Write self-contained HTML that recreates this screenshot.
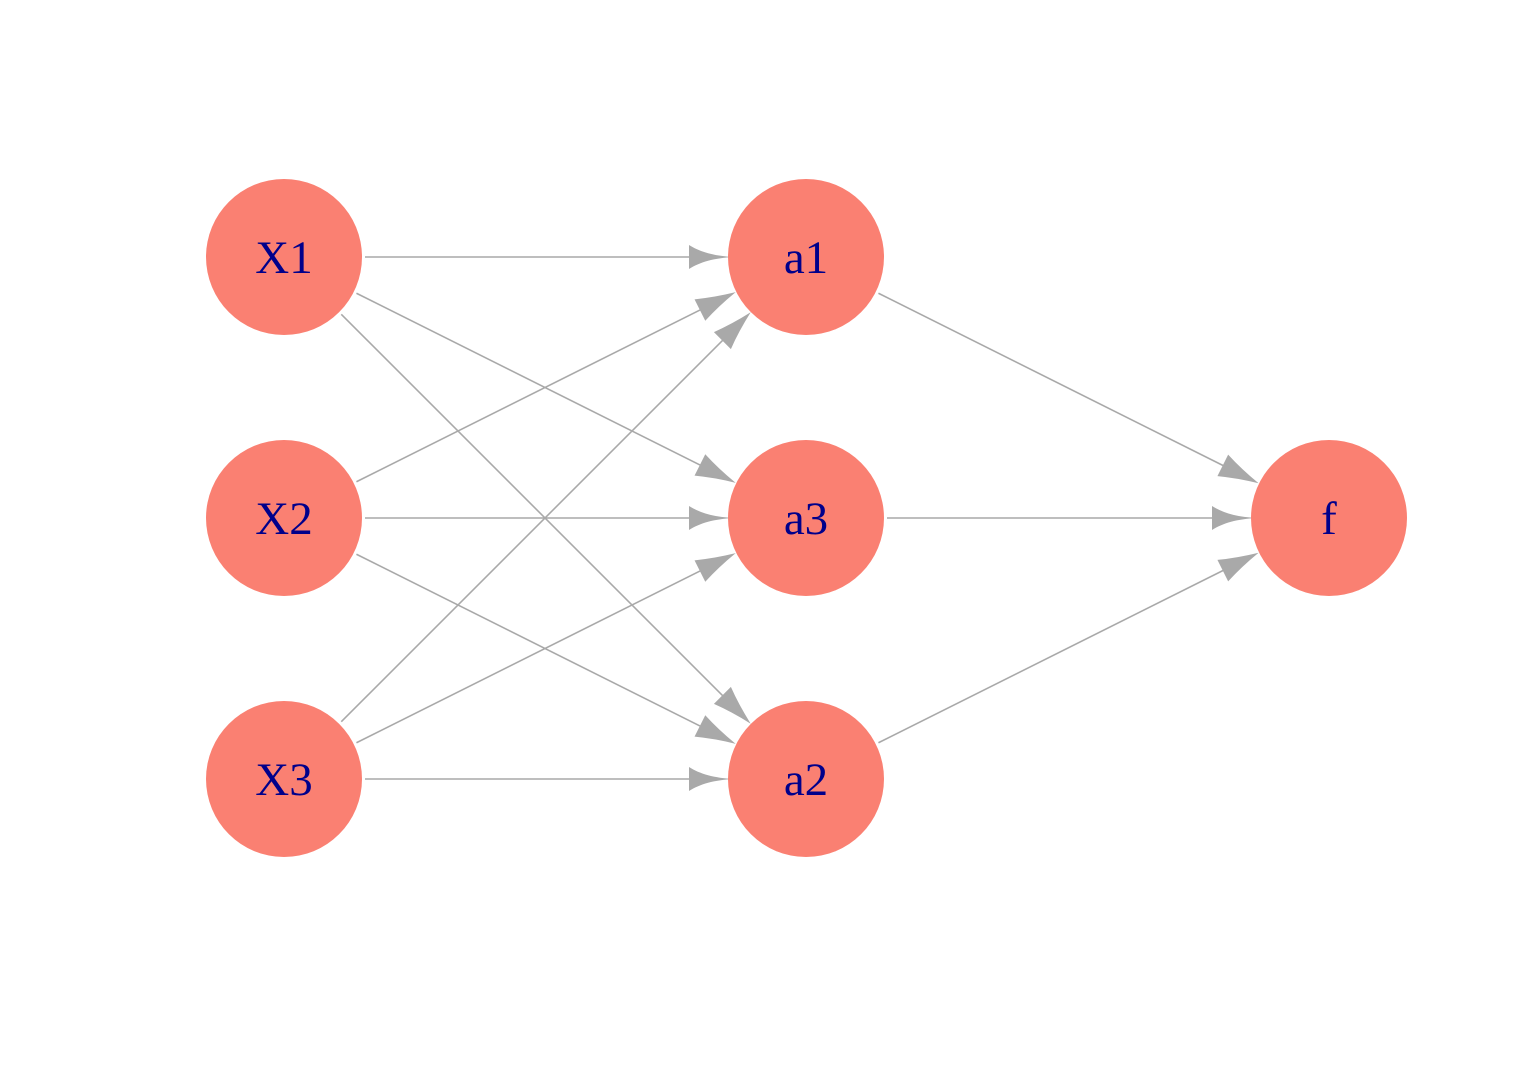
<!DOCTYPE html>
<html><head><meta charset="utf-8"><style>html,body{margin:0;padding:0;background:#fff}svg{display:block}</style></head>
<body>
<svg width="1536" height="1075" viewBox="0 0 1536 1075" xmlns="http://www.w3.org/2000/svg">
<defs>
<path id="ah" d="M0,0 C-20,-1 -34,-5 -45,-12 L-45,12 C-34,5 -20,1 0,0 Z" fill="#A9A9A9"/>
<path id="at" d="M0,0 Q-22,-5 -40,-12 L-40,12 Q-22,5 0,0 Z" fill="#A9A9A9"/>
<g id="e0"><line x1="81" y1="0" x2="410" y2="0" stroke="#A9A9A9" stroke-width="1.6"/><use href="#ah" transform="translate(450,0)"/></g>
<g id="e1"><line x1="81" y1="0" x2="470" y2="0" stroke="#A9A9A9" stroke-width="1.6"/><use href="#at" transform="translate(505,0)"/></g>
<g id="e2"><line x1="81" y1="0" x2="625" y2="0" stroke="#A9A9A9" stroke-width="1.6"/><use href="#at" transform="translate(660,0)"/></g>
<g id="e3"><line x1="81" y1="0" x2="471" y2="0" stroke="#A9A9A9" stroke-width="1.6"/><use href="#at" transform="translate(506,0)"/></g>
<g id="e4"><line x1="81" y1="0" x2="411" y2="0" stroke="#A9A9A9" stroke-width="1.6"/><use href="#ah" transform="translate(451,0)"/></g>
</defs>
<use href="#e0" transform="translate(284,257)"/>
<use href="#e1" transform="translate(284,257) rotate(26.565)"/>
<use href="#e2" transform="translate(284,257) rotate(45)"/>
<use href="#e1" transform="translate(284,518) rotate(-26.565)"/>
<use href="#e0" transform="translate(284,518)"/>
<use href="#e1" transform="translate(284,518) rotate(26.565)"/>
<use href="#e2" transform="translate(284,779) rotate(-45)"/>
<use href="#e1" transform="translate(284,779) rotate(-26.565)"/>
<use href="#e0" transform="translate(284,779)"/>
<use href="#e3" transform="translate(806,257) rotate(26.565)"/>
<use href="#e4" transform="translate(806,518)"/>
<use href="#e3" transform="translate(806,779) rotate(-26.565)"/>
<g fill="#FA8072">
<circle cx="284" cy="257" r="78"/><circle cx="284" cy="518" r="78"/><circle cx="284" cy="779" r="78"/>
<circle cx="806" cy="257" r="78"/><circle cx="806" cy="518" r="78"/><circle cx="806" cy="779" r="78"/>
<circle cx="1329" cy="518" r="78"/>
</g>
<g font-family="Liberation Serif, serif" font-size="47" fill="#00008B" text-anchor="middle">
<text x="284" y="273">X1</text><text x="284" y="534">X2</text><text x="284" y="795">X3</text>
<text x="806" y="273">a1</text><text x="806" y="534">a3</text><text x="806" y="795">a2</text>
<text x="1329" y="534">f</text>
</g>
</svg>
</body></html>
